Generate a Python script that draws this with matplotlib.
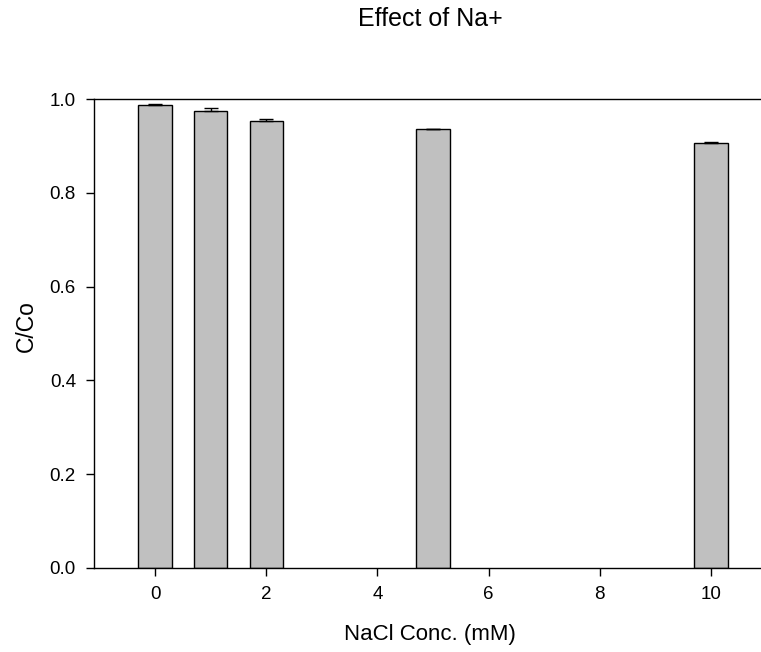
import matplotlib
matplotlib.use("Agg")
import matplotlib.pyplot as plt
import numpy as np

plt.rcParams['font.family'] = ['Liberation Sans', 'DejaVu Sans']

conc = [0, 1, 2, 5, 10]
c_co = [0.988, 0.974, 0.954, 0.935, 0.9055]
err = [0.001, 0.007, 0.004, 0.002, 0.002]
xticks = [0, 2, 4, 6, 8, 10]
yticks = [0.0, 0.2, 0.4, 0.6, 0.8, 1.0]

W, H = 761, 652
fig = plt.figure(figsize=(W/100, H/100), dpi=100)
ax = fig.add_axes([94/W, 84/H, 678/W, 469/H])

ax.bar(conc, c_co, width=0.6, color='#c0c0c0', edgecolor='black', linewidth=1.0,
       yerr=[np.zeros(len(err)), err], capsize=5,
       error_kw=dict(ecolor='black', elinewidth=1.0, capthick=1.0))

ax.set_xlim(-1.1, 11.1)
ax.set_ylim(0, 1.0)
ax.set_xticks(xticks)
ax.set_xticklabels([str(t) for t in xticks])
ax.set_yticks(yticks)
ax.set_yticklabels([f"{t:.1f}" for t in yticks])
ax.tick_params(direction='out', length=6, width=1, labelsize=13.5, pad=7)
ax.spines['right'].set_visible(False)
for s in ['left', 'bottom', 'top']:
    ax.spines[s].set_linewidth(1.0)

fig.text(430/W, 1 - 640/H, 'NaCl Conc. (mM)', ha='center', va='baseline', fontsize=16)
fig.text(33/W, 1 - 326/H, 'C/Co', ha='center', va='baseline', rotation=90,
         rotation_mode='anchor', fontsize=16.5)
fig.text(430.5/W, 1 - 26.5/H, 'Effect of Na+', ha='center', va='baseline', fontsize=18)

fig.savefig('out.png', dpi=100)
